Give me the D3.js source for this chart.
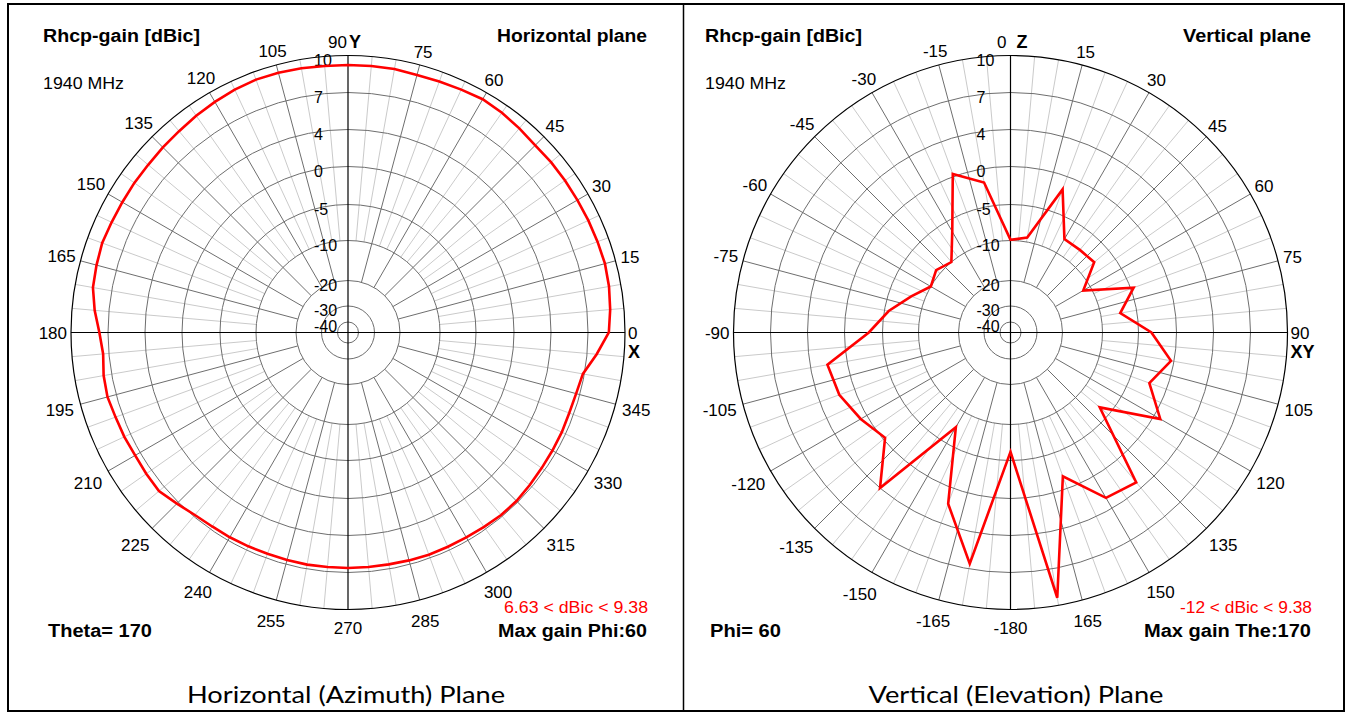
<!DOCTYPE html>
<html>
<head>
<meta charset="utf-8">
<script src="https://cdn.jsdelivr.net/npm/d3@7/dist/d3.min.js"></script>
<style>
  html, body { margin: 0; padding: 0; background: #ffffff; }
  svg { display: block; }
</style>
</head>
<body>
<svg id="chart" width="1351" height="713"></svg>
<script>
// ------------------------------------------------------------------
// DATA
// ------------------------------------------------------------------
const gainTitle = "Rhcp-gain [dBic]";
const frequencyLabel = "1940 MHz";

// dB rings of the polar grid (outer ring = 10 dBic)
const ringTicks = [10, 7, 4, 0, -5, -10, -20, -30, -40];

// Horizontal (azimuth) plane, Theta = 170 : phi in degrees, gain in dBic
const azimuthPhi = [0, 5, 10, 15, 20, 25, 30, 35, 40, 45, 50, 55, 60, 65, 70, 75, 80, 85,
  90, 95, 100, 105, 110, 115, 120, 125, 130, 135, 140, 145, 150, 155, 160, 165, 170, 175,
  180, 185, 190, 195, 200, 205, 210, 215, 220, 225, 230, 235, 240, 245, 250, 255, 260, 265,
  270, 275, 280, 285, 290, 295, 300, 305, 310, 315, 320, 325, 330, 335, 340, 345, 350, 355];
const azimuthGain = [8.69, 8.88, 9.03, 9.11, 9.07, 9.04, 9.02, 9.02, 9.03, 9.01, 9.15, 9.30,
  9.38, 9.27, 9.19, 9.15, 9.23, 9.23, 9.23, 9.23, 9.30, 9.34, 9.36, 9.27, 9.13, 9.00, 8.85,
  8.77, 8.69, 8.69, 8.67, 8.69, 8.75, 8.65, 8.54, 8.16, 7.70, 7.47, 7.66, 7.73, 7.60, 7.55,
  7.47, 7.51, 7.55, 7.16, 6.86, 6.74, 6.71, 6.67, 6.63, 6.63, 6.65, 6.63, 6.63, 6.63, 6.63,
  6.67, 6.71, 6.71, 6.72, 6.78, 6.86, 6.86, 6.78, 6.71, 6.68, 6.67, 6.63, 6.69, 6.88, 7.78];
const azimuthAngleLabels = [0, 15, 30, 45, 60, 75, 90, 105, 120, 135, 150, 165, 180, 195,
  210, 225, 240, 255, 270, 285, 300, 315, 330, 345];

// Vertical (elevation) plane, Phi = 60 : theta in degrees, gain in dBic
const elevationTheta = [-180, -170, -160, -150, -140, -130, -120, -110, -100, -90, -80, -70,
  -60, -50, -40, -30, -20, -10, 0, 10, 20, 30, 40, 50, 60, 70, 80, 90, 100, 110, 120, 130,
  140, 150, 160, 170];
const elevationGain = [-6.2, 6.57, 1.76, -7.6, 4.0, -0.3, 0.75, 1.75, 2.15, -3.2, -5.6, -8.1,
  -10.0, -9.3, -10.0, -6.6, 0.3, -1.8, -9.9, -9.4, -1.8, -7.8, -7.8, -7.6, -12.0, -4.6, -7.3,
  -3.3, -0.4, -2.4, 0.75, -6.6, 3.2, 2.7, -1.7, 9.38];
const elevationAngleLabels = [0, 15, 30, 45, 60, 75, 90, 105, 120, 135, 150, 165, -180, -165,
  -150, -135, -120, -105, -90, -75, -60, -45, -30, -15];

// Text of each panel
const panelTitles = ["Horizontal plane", "Vertical plane"];
const cutLabels = ["Theta= 170", "Phi= 60"];
const rangeLabels = ["6.63 < dBic < 9.38", "-12 < dBic < 9.38"];
const maxGainLabels = ["Max gain Phi:60", "Max gain The:170"];
const captions = ["Horizontal (Azimuth) Plane", "Vertical (Elevation) Plane"];

// ------------------------------------------------------------------
// LAYOUT
// ------------------------------------------------------------------
const FONT = "'Liberation Sans', Arial, sans-serif";
const CAPTION_FONT = "Lato, 'Open Sans', sans-serif";
const R = 277;
const ringRadii = [10.5, 26.5, 52, 92, 128, 166, 203, 240, 277]; // for ticks -40..10
const rScale = d3.scaleLinear()
  .domain(ringTicks.slice().sort((a, b) => a - b))
  .range(ringRadii)
  .clamp(true);

const GRID_DARK = "#6e6e6e";
const GRID_LIGHT = "#cacaca";

const svg = d3.select("#chart");
svg.append("rect").attr("width", 1351).attr("height", 713).attr("fill", "#fff");

const panels = [
  {
    cx: 348, cy: 332.5, left: 43, right: 647,
    toScreen: a => a,                 // phi counter-clockwise from +x
    angles: azimuthPhi, gains: azimuthGain, labels: azimuthAngleLabels,
    topValue: 90, topLetter: "Y", topGap: [1, 1],
    rightValue: 0, rightLetter: "X",
    title: panelTitles[0], titleLen: 150, cut: cutLabels[0], cutLen: 104,
    range: rangeLabels[0], rangeLen: 144, maxg: maxGainLabels[0], maxgLen: 149,
    caption: captions[0], captionCx: 346, captionLen: 318
  },
  {
    cx: 1010.5, cy: 332.5, left: 705, right: 1311,
    toScreen: t => 90 - t,            // theta clockwise from top
    angles: elevationTheta, gains: elevationGain, labels: elevationAngleLabels,
    topValue: 0, topLetter: "Z", topGap: [4, 6],
    rightValue: 90, rightLetter: "XY",
    title: panelTitles[1], titleLen: 128, cut: cutLabels[1], cutLen: 71,
    range: rangeLabels[1], rangeLen: 132, maxg: maxGainLabels[1], maxgLen: 167,
    caption: captions[1], captionCx: 1016, captionLen: 295
  }
];

function textAt(g, x, y, str, opts) {
  const t = g.append("text")
    .attr("x", x).attr("y", y)
    .attr("font-family", opts.family || FONT)
    .attr("font-size", opts.size || 17)
    .attr("font-weight", opts.bold ? "bold" : "normal")
    .attr("fill", opts.fill || "#000")
    .text(str);
  if (opts.len) {
    t.attr("textLength", opts.len).attr("lengthAdjust", "spacingAndGlyphs");
  }
  if (opts.anchor) t.attr("text-anchor", opts.anchor);
  return t;
}

panels.forEach(p => {
  const g = svg.append("g");
  const rad = d => d * Math.PI / 180;

  // radial grid lines
  for (let a = 0; a < 360; a += 5) {
    if (a % 90 === 0) continue;
    const major = a % 15 === 0;
    const r0 = major ? rScale(-20) : rScale(-10);
    const c = Math.cos(rad(a)), s = Math.sin(rad(a));
    g.append("line")
      .attr("x1", p.cx + r0 * c).attr("y1", p.cy - r0 * s)
      .attr("x2", p.cx + R * c).attr("y2", p.cy - R * s)
      .attr("stroke", major ? GRID_DARK : GRID_LIGHT)
      .attr("stroke-width", 1);
  }

  // dB rings
  ringTicks.filter(v => v !== 10).forEach(v => {
    g.append("circle").attr("cx", p.cx).attr("cy", p.cy).attr("r", rScale(v))
      .attr("fill", "none").attr("stroke", GRID_DARK).attr("stroke-width", 1);
  });

  // axes
  g.append("line").attr("x1", p.cx - R).attr("x2", p.cx + R)
    .attr("y1", p.cy).attr("y2", p.cy).attr("stroke", "#000").attr("stroke-width", 1.2);
  g.append("line").attr("x1", p.cx).attr("x2", p.cx)
    .attr("y1", p.cy - R).attr("y2", p.cy + R).attr("stroke", "#000").attr("stroke-width", 1.2);

  // outer ring
  g.append("circle").attr("cx", p.cx).attr("cy", p.cy).attr("r", rScale(10))
    .attr("fill", "none").attr("stroke", "#000").attr("stroke-width", 1.2);

  // ring labels
  ringTicks.forEach(v => {
    textAt(g, p.cx - 34, p.cy - rScale(v) + 10, String(v), { size: 16 });
  });

  // angle labels
  p.labels.forEach(v => {
    const a = ((p.toScreen(v) % 360) + 360) % 360;
    if (v === p.topValue) {
      textAt(g, p.cx - p.topGap[0], p.cy - R - 8, String(v), { anchor: "end" });
      textAt(g, p.cx + p.topGap[1], p.cy - R - 8, p.topLetter, { bold: true, size: 18 });
      return;
    }
    if (v === p.rightValue) {
      textAt(g, p.cx + R + 3, p.cy + 6, String(v), {});
      textAt(g, p.cx + R + 3, p.cy + 25, p.rightLetter, { bold: true, size: 18 });
      return;
    }
    const t = textAt(g, 0, 0, String(v), { anchor: "middle" });
    const w = t.node().getComputedTextLength();
    const c = Math.cos(rad(a)), s = Math.sin(rad(a));
    const off = 4 + (w / 2) * Math.abs(c) + (s >= 0 ? 7 : 14) * Math.abs(s);
    const rr = R + off;
    t.attr("x", p.cx + rr * c).attr("y", p.cy - rr * s + 6);
  });

  // pattern curve
  const pts = p.angles.map((ang, i) => ({ ang: ang, gain: p.gains[i] }));
  const line = d3.lineRadial()
    .angle(d => rad(90 - p.toScreen(d.ang)))
    .radius(d => rScale(d.gain))
    .curve(d3.curveLinearClosed);
  g.append("path")
    .attr("transform", `translate(${p.cx},${p.cy})`)
    .attr("d", line(pts))
    .attr("fill", "none")
    .attr("stroke", "#ff0000")
    .attr("stroke-width", 2.6)
    .attr("stroke-linejoin", "miter");

  // header / footer texts
  textAt(g, p.left, 42, gainTitle, { bold: true, size: 18, len: 157 });
  textAt(g, p.right - p.titleLen, 42, p.title, { bold: true, size: 18, len: p.titleLen });
  textAt(g, p.left, 89, frequencyLabel, { len: 81 });
  textAt(g, p.right + 1 - p.rangeLen, 613, p.range, { fill: "#ff0000", len: p.rangeLen });
  textAt(g, p.right - p.maxgLen, 637, p.maxg, { bold: true, size: 18, len: p.maxgLen });
  textAt(g, p.left + 5, 637, p.cut, { bold: true, size: 18, len: p.cutLen });

  // caption
  textAt(g, p.captionCx - p.captionLen / 2, 703, p.caption,
    { family: CAPTION_FONT, size: 24, len: p.captionLen });
});

// table frame
svg.append("rect").attr("x", 8).attr("y", 4).attr("width", 1336).attr("height", 707)
  .attr("fill", "none").attr("stroke", "#000").attr("stroke-width", 2);
svg.append("line").attr("x1", 683.5).attr("x2", 683.5).attr("y1", 4).attr("y2", 711)
  .attr("stroke", "#000").attr("stroke-width", 1.5);
</script>
</body>
</html>
